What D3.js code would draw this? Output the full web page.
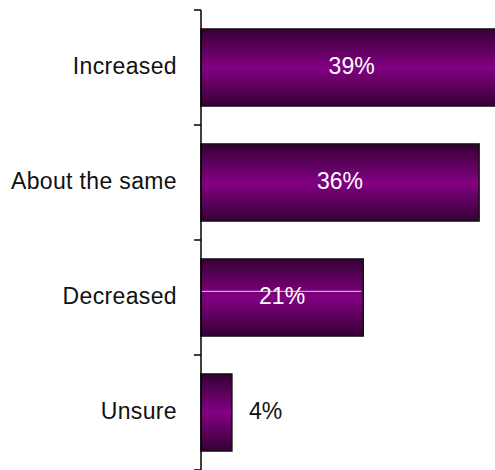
<!DOCTYPE html>
<html>
<head>
<meta charset="utf-8">
<script src="https://cdn.jsdelivr.net/npm/d3@7"></script>
<style>
  html, body { margin: 0; padding: 0; background: #fff; overflow: hidden; }
  svg { display: block; font-family: "Liberation Sans", Arial, sans-serif; }
</style>
</head>
<body>
<svg id="chart" width="495" height="470"></svg>
<script>
const categories = ["Increased", "About the same", "Decreased", "Unsure"];
const values = [39, 36, 21, 4];
const valueLabels = ["39%", "36%", "21%", "4%"];

const svg = d3.select("#chart");
const axisX = 201;

const y = d3.scaleBand()
  .domain(categories)
  .range([10, 470])
  .paddingInner(0.33)
  .paddingOuter(0.165);

const x = d3.scaleLinear()
  .domain([0, 40])
  .range([axisX, 510]);

// vertical gradient: dark edges, bright purple through the middle
const defs = svg.append("defs");
const grad = defs.append("linearGradient")
  .attr("id", "barFill")
  .attr("x1", 0).attr("y1", 0).attr("x2", 0).attr("y2", 1);
grad.append("stop").attr("offset", "0%").attr("stop-color", "#360034");
grad.append("stop").attr("offset", "50%").attr("stop-color", "#820082");
grad.append("stop").attr("offset", "100%").attr("stop-color", "#360034");

const data = categories.map((c, i) => ({ cat: c, value: values[i], label: valueLabels[i] }));

// bars
svg.append("g").selectAll("rect")
  .data(data)
  .join("rect")
  .attr("x", x(0))
  .attr("y", d => y(d.cat))
  .attr("width", d => x(d.value) - x(0))
  .attr("height", y.bandwidth())
  .attr("fill", "url(#barFill)")
  .attr("stroke", "#111")
  .attr("stroke-width", 1.5);

// faint highlight line across the "Decreased" bar
svg.append("line")
  .attr("x1", x(0) + 1)
  .attr("x2", x(values[2]) - 2)
  .attr("y1", y(categories[2]) + y.bandwidth() * 0.42)
  .attr("y2", y(categories[2]) + y.bandwidth() * 0.42)
  .attr("stroke", "#e8c8e8")
  .attr("stroke-width", 1);

// category axis on the left
const axis = d3.axisLeft(y).tickSize(0).tickFormat("");
const axisG = svg.append("g").attr("transform", `translate(${axisX},0)`).call(axis);
axisG.select(".domain").remove();
axisG.append("line")
  .attr("x1", 0).attr("x2", 0)
  .attr("y1", y.range()[0]).attr("y2", y.range()[1])
  .attr("stroke", "#000").attr("stroke-width", 1.5);

// boundary ticks between categories
const step = y.step();
const boundaries = d3.range(categories.length + 1).map(i => y.range()[0] + i * step);
axisG.selectAll(".bt")
  .data(boundaries)
  .join("line")
  .attr("class", "bt")
  .attr("x1", -7).attr("x2", 0)
  .attr("y1", d => d).attr("y2", d => d)
  .attr("stroke", "#000").attr("stroke-width", 1.5);

// category labels
svg.append("g").selectAll("text")
  .data(data)
  .join("text")
  .attr("x", 177)
  .attr("y", d => y(d.cat) + y.bandwidth() / 2 + 6.5)
  .attr("text-anchor", "end")
  .attr("font-size", 23)
  .attr("letter-spacing", 0.35)
  .attr("fill", "#111")
  .text(d => d.cat);

// value labels: inside the bar when it is wide enough, otherwise just past its end
svg.append("g").selectAll("text")
  .data(data)
  .join("text")
  .attr("x", d => d.value > 10 ? (x(0) + x(d.value)) / 2 : x(d.value) + 17)
  .attr("y", d => y(d.cat) + y.bandwidth() / 2 + 6.5)
  .attr("text-anchor", d => d.value > 10 ? "middle" : "start")
  .attr("font-size", 23)
  .attr("fill", d => d.value > 10 ? "#fff" : "#111")
  .text(d => d.label);
</script>
</body>
</html>
